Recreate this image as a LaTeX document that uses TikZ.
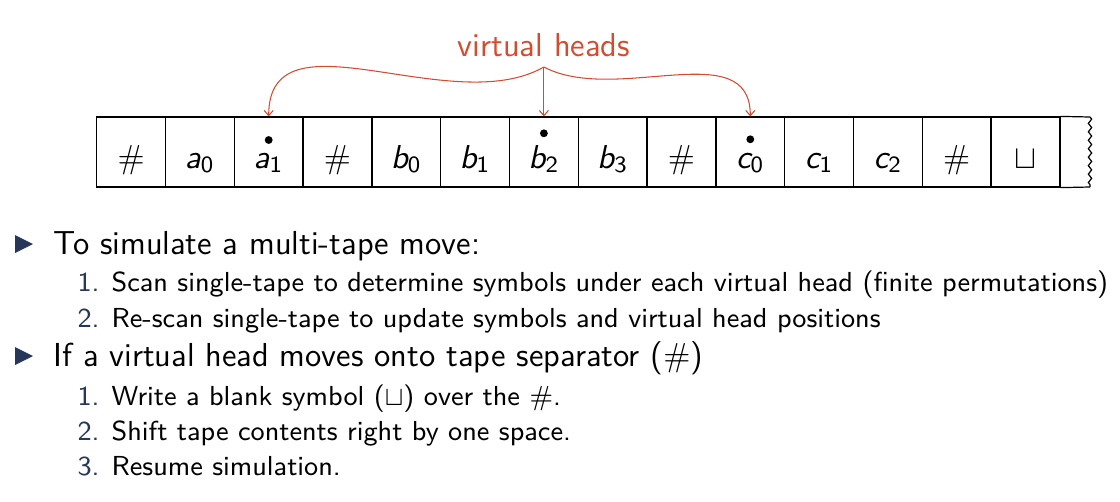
\documentclass[tikz,border=0pt]{standalone}
\usepackage{fontspec}
\usetikzlibrary{arrows.meta,decorations.pathmorphing}
\DeclareMathAlphabet{\mathsfit}{OT1}{cmss}{m}{sl}
\definecolor{alertc}{RGB}{210,77,48}
\definecolor{navy}{RGB}{38,55,90}
\newcommand{\sy}[2]{$\mathsfit{#1}_{\mathsf{#2}}$}
\begin{document}
\begin{tikzpicture}[x=0.331pt,y=-0.331pt,
  cell/.style={draw=black,line width=0.4pt,minimum width=22.77pt,minimum height=23.17pt,inner sep=0pt,
    text height=12pt,text depth=1.4pt,font=\fontsize{11}{13}\selectfont\sffamily},
  harrow/.style={draw=alertc,line width=0.35pt,-{Straight Barb[length=1.7pt,width=3pt]}},
  maintext/.style={anchor=base west,inner sep=0pt,font=\fontsize{11}{13}\selectfont\sffamily},
  subnum/.style={anchor=base west,inner sep=0pt,text=navy,font=\fontsize{9.1}{11}\selectfont\sffamily},
  subtext/.style={anchor=base west,inner sep=0pt,font=\fontsize{9.1}{11}\selectfont\sffamily},
  headdot/.style={fill=black}
]
\useasboundingbox (0,0) rectangle (1120,501);
% tape
\node[cell] (c0)  at (131.1,152) {$\#$};
\node[cell] (c1)  at (199.9,152) {\sy{a}{0}};
\node[cell] (c2)  at (268.7,152) {\sy{a}{1}};
\node[cell] (c3)  at (337.5,152) {$\#$};
\node[cell] (c4)  at (406.3,152) {\sy{b}{0}};
\node[cell] (c5)  at (475.1,152) {\sy{b}{1}};
\node[cell] (c6)  at (543.9,152) {\sy{b}{2}};
\node[cell] (c7)  at (612.7,152) {\sy{b}{3}};
\node[cell] (c8)  at (681.5,152) {$\#$};
\node[cell] (c9)  at (750.3,152) {\sy{c}{0}};
\node[cell] (c10) at (819.1,152) {\sy{c}{1}};
\node[cell] (c11) at (887.9,152) {\sy{c}{2}};
\node[cell] (c12) at (956.7,152) {$\#$};
\node[cell] (c13) at (1025.5,152) {$\sqcup$};
\coordinate (zt) at (1090,117);
\coordinate (zb) at (1090,187);
\draw[line width=0.4pt] (c13.north east) -- (zt);
\draw[line width=0.4pt] (c13.south east) -- (zb);
\draw[line width=0.4pt,decorate,decoration={zigzag,segment length=2.8pt,amplitude=0.55pt}] (zt) -- (zb);
% head dots
\fill[headdot] ([yshift=12*0.331pt]c2.center) circle (1.3pt);
\fill[headdot] ([yshift=18.7*0.331pt]c6.center) circle (1.3pt);
\fill[headdot] ([yshift=12.7*0.331pt]c9.center) circle (1.3pt);
% virtual heads
\node[anchor=base,text=alertc,font=\fontsize{11}{13}\selectfont\sffamily] (vh) at (543.9,56) {virtual heads};
\draw[harrow] (vh.south) .. controls +(-93,53) and +(0,-109) .. (c2.north);
\draw[harrow] (vh.south) -- (c6.north);
\draw[harrow] (vh.south) .. controls +(72,38) and +(0,-82) .. (c9.north);
% bullets
\fill[navy] (15,235) -- (33,244) -- (15,253) -- cycle;
\fill[navy] (15,347) -- (33,356) -- (15,365) -- cycle;
\node[maintext] (m1) at (53,254) {To simulate a multi-tape move:};
\node[subnum] (n11) at (77,291) {1.};
\node[subtext] (s11) at (111,291) {Scan single-tape to determine symbols under each virtual head (finite permutations)};
\node[subnum] (n12) at (77,327) {2.};
\node[subtext] (s12) at (111,327) {Re-scan single-tape to update symbols and virtual head positions};
\node[maintext] (m2) at (53,366) {If a virtual head moves onto tape separator ($\#$)};
\node[subnum] (n21) at (77,405) {1.};
\node[subtext] (s21) at (111,405) {Write a blank symbol ($\sqcup$) over the $\#$.};
\node[subnum] (n22) at (77,440) {2.};
\node[subtext] (s22) at (111,440) {Shift tape contents right by one space.};
\node[subnum] (n23) at (77,475) {3.};
\node[subtext] (s23) at (111,475) {Resume simulation.};
\end{tikzpicture}
\end{document}
